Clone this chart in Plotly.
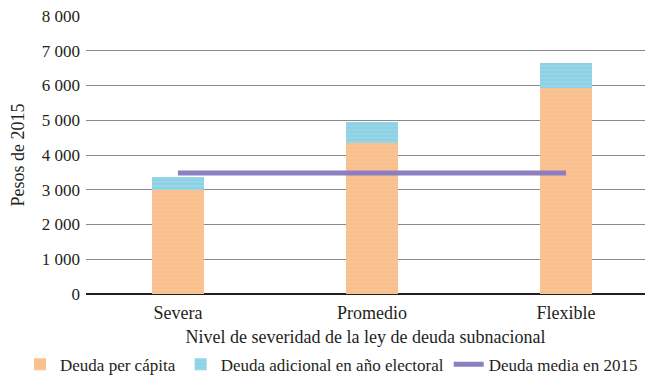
import plotly.graph_objects as go

categories = ['Severa', 'Promedio', 'Flexible']
deuda_per_capita = [3000, 4350, 5920]
deuda_adicional = [360, 610, 720]
deuda_media = [3480, 3480, 3480]

y_ticks = [0, 1000, 2000, 3000, 4000, 5000, 6000, 7000, 8000]
y_tick_text = ['0', '1 000', '2 000', '3 000', '4 000', '5 000', '6 000', '7 000', '8 000']

FONT = 'Liberation Serif'

fig = go.Figure()
fig.add_trace(go.Bar(x=categories, y=deuda_per_capita, name='Deuda per cápita',
                     width=0.27,
                     marker=dict(color='#F9BF8C', line_width=0,
                                 pattern=dict(shape='-', fgcolor='#FCD0A8', size=4, solidity=0.25))))
fig.add_trace(go.Bar(x=categories, y=deuda_adicional, name='Deuda adicional en año electoral',
                     width=0.27,
                     marker=dict(color='#8DD2E4', line_width=0,
                                 pattern=dict(shape='-', fgcolor='#B8E4EF', size=4, solidity=0.25))))
fig.add_trace(go.Scatter(x=categories, y=deuda_media, name='Deuda media en 2015',
                         mode='lines', line=dict(color='#8C7EC0', width=5)))

# page body adds an 8px offset, so margins are shifted to match the reference
fig.update_layout(
    barmode='stack',
    width=654, height=378,
    margin=dict(l=78, r=17, t=8, b=92, autoexpand=False),
    paper_bgcolor='white', plot_bgcolor='white',
    font=dict(family=FONT, size=18, color='#231F20'),
    showlegend=True,
    legend=dict(orientation='h', x=-0.118, xanchor='left', y=-0.254, yanchor='middle',
                font=dict(size=17), itemwidth=30, tracegroupgap=0,
                traceorder='normal', bgcolor='rgba(0,0,0,0)'),
    xaxis=dict(range=[-0.474, 2.407], showgrid=False, ticks='', showline=False,
               automargin=False, ticklabelstandoff=6,
               title=dict(text='Nivel de severidad de la ley de deuda subnacional',
                          standoff=8, font=dict(size=18))),
    yaxis=dict(range=[0, 8000], tickvals=y_ticks, ticktext=y_tick_text,
               showgrid=True, gridcolor='#8A8A8A', gridwidth=1,
               zeroline=True, zerolinecolor='#231F20', zerolinewidth=1.5,
               showline=False, ticks='', ticklabelstandoff=5, automargin=False,
               ticklabeloverflow='allow', tickfont=dict(size=17),
               title=dict(text='Pesos de 2015', standoff=14, font=dict(size=18))),
)

fig.write_html('out.html')
